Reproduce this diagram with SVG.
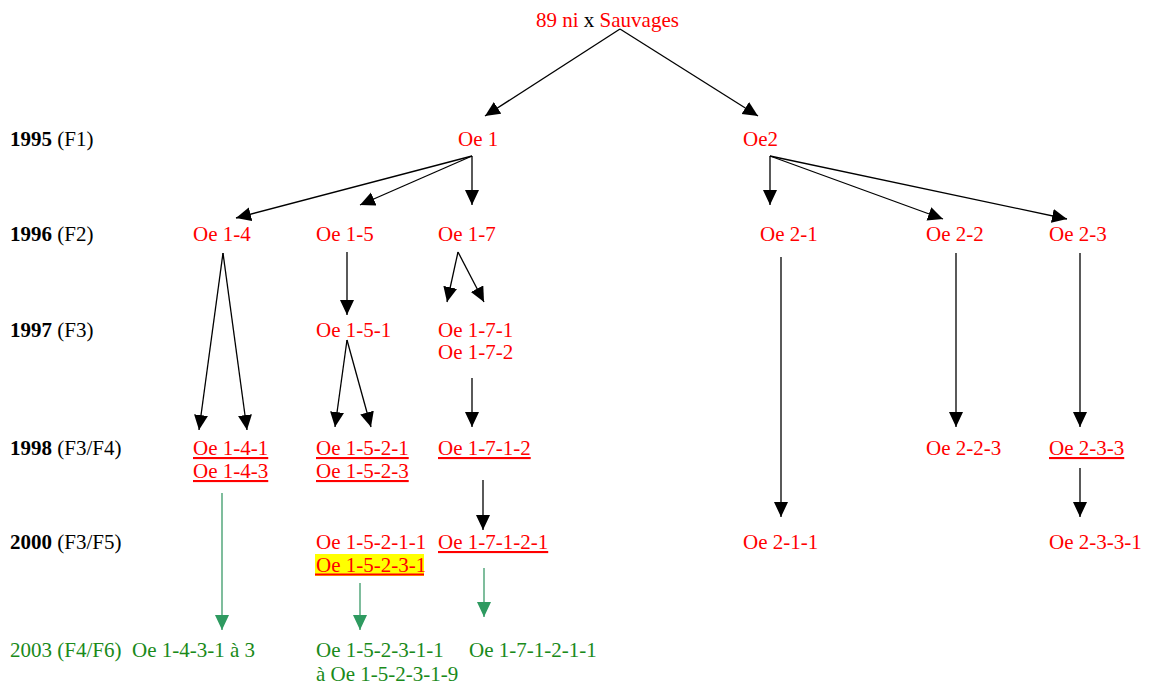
<svg xmlns="http://www.w3.org/2000/svg" width="1155" height="684" viewBox="0 0 1155 684">
<style>
text{font-family:"Liberation Serif","Times New Roman",serif;font-size:21px}
.r{fill:#ff0000}
.k{fill:#000}
.g{fill:#1a8a1a}
.b{font-weight:bold}
.u{text-decoration:underline}
.a{stroke:#000;stroke-width:1.3;fill:none;marker-end:url(#ah)}
.ga{stroke:#3a9a68;stroke-width:1.3;fill:none;marker-end:url(#gh)}
</style>
<defs>
<marker id="ah" markerUnits="userSpaceOnUse" markerWidth="16" markerHeight="15" refX="15" refY="7" orient="auto">
<path d="M0,0 L15,7 L0,14 z" fill="#000"/>
</marker>
<marker id="gh" markerUnits="userSpaceOnUse" markerWidth="16" markerHeight="15" refX="15" refY="7" orient="auto">
<path d="M0,0 L15,7 L0,14 z" fill="#2e9a60"/>
</marker>
</defs>
<rect width="1155" height="684" fill="#fff"/>
<g id="years">
<text x="10" y="146"><tspan class="b">1995</tspan> (F1)</text>
<text x="10" y="241"><tspan class="b">1996</tspan> (F2)</text>
<text x="10" y="337"><tspan class="b">1997</tspan> (F3)</text>
<text x="10" y="455"><tspan class="b">1998</tspan> (F3/F4)</text>
<text x="10" y="549"><tspan class="b">2000</tspan> (F3/F5)</text>
</g>
<g id="root"><text x="536" y="27"><tspan class="r">89 ni</tspan><tspan class="k"> x </tspan><tspan class="r">Sauvages</tspan></text></g>
<g id="oe1"><text class="r" x="458" y="146">Oe 1</text></g>
<g id="oe2"><text class="r" x="743" y="146">Oe2</text></g>
<g id="oe1-4"><text class="r" x="193" y="241">Oe 1-4</text></g>
<g id="oe1-5"><text class="r" x="316" y="241">Oe 1-5</text></g>
<g id="oe1-7"><text class="r" x="438" y="241">Oe 1-7</text></g>
<g id="oe2-1"><text class="r" x="760" y="241">Oe 2-1</text></g>
<g id="oe2-2"><text class="r" x="926" y="241">Oe 2-2</text></g>
<g id="oe2-3"><text class="r" x="1049" y="241">Oe 2-3</text></g>
<g id="oe1-5-1"><text class="r" x="316" y="337">Oe 1-5-1</text></g>
<g id="oe1-7-1"><text class="r" x="438" y="337">Oe 1-7-1</text><text class="r" x="438" y="359">Oe 1-7-2</text></g>
<g id="oe1-4-1"><text class="r u" x="193" y="455">Oe 1-4-1</text><text class="r u" x="193" y="478">Oe 1-4-3</text></g>
<g id="oe1-5-2-1"><text class="r u" x="316" y="455">Oe 1-5-2-1</text><text class="r u" x="316" y="478">Oe 1-5-2-3</text></g>
<g id="oe1-7-1-2"><text class="r u" x="438" y="455">Oe 1-7-1-2</text></g>
<g id="oe2-2-3"><text class="r" x="926" y="455">Oe 2-2-3</text></g>
<g id="oe2-3-3"><text class="r u" x="1049" y="455">Oe 2-3-3</text></g>
<g id="oe1-5-2-1-1">
<text class="r" x="316" y="549">Oe 1-5-2-1-1</text>
<rect x="315" y="554" width="109" height="22" fill="#ffff00"/>
<text class="r" x="316" y="572">Oe 1-5-2-3-1</text>
<line x1="315" y1="574.5" x2="424" y2="574.5" stroke="#ff0000" stroke-width="2"/>
</g>
<g id="oe1-7-1-2-1"><text class="r u" x="438" y="549">Oe 1-7-1-2-1</text></g>
<g id="oe2-1-1"><text class="r" x="743" y="549">Oe 2-1-1</text></g>
<g id="oe2-3-3-1"><text class="r" x="1049" y="549">Oe 2-3-3-1</text></g>
<g id="f2003">
<text class="g" x="10" y="657">2003 (F4/F6)<tspan x="132">Oe 1-4-3-1 à 3</tspan></text>
</g>
<g id="oe1-5-2-3-1-x"><text class="g" x="316" y="657">Oe 1-5-2-3-1-1</text><text class="g" x="316" y="681">à Oe 1-5-2-3-1-9</text></g>
<g id="oe1-7-1-2-1-1"><text class="g" x="469" y="657">Oe 1-7-1-2-1-1</text></g>
<g id="connectors">
<line class="a" x1="620" y1="29" x2="485" y2="116"/>
<line class="a" x1="620" y1="29" x2="758" y2="116"/>
<line class="a" x1="472" y1="156" x2="236" y2="218"/>
<line class="a" x1="472" y1="156" x2="360" y2="205"/>
<line class="a" x1="472" y1="156" x2="472" y2="205"/>
<line class="a" x1="770" y1="156" x2="770" y2="205"/>
<line class="a" x1="770" y1="156" x2="943" y2="219"/>
<line class="a" x1="770" y1="156" x2="1067" y2="219"/>
<line class="a" x1="223" y1="253" x2="199" y2="430"/>
<line class="a" x1="223" y1="253" x2="247" y2="430"/>
<line class="a" x1="347" y1="252" x2="347" y2="315"/>
<line class="a" x1="458" y1="252" x2="447" y2="302"/>
<line class="a" x1="458" y1="252" x2="484" y2="302"/>
<line class="a" x1="347" y1="340" x2="335" y2="427"/>
<line class="a" x1="347" y1="340" x2="371" y2="427"/>
<line class="a" x1="472" y1="378" x2="472" y2="427"/>
<line class="a" x1="483" y1="480" x2="483" y2="530"/>
<line class="a" x1="781" y1="257" x2="781" y2="517"/>
<line class="a" x1="956" y1="253" x2="956" y2="427"/>
<line class="a" x1="1080" y1="253" x2="1080" y2="427"/>
<line class="a" x1="1080" y1="468" x2="1080" y2="517"/>
<line class="ga" x1="222" y1="493" x2="222" y2="630"/>
<line class="ga" x1="360" y1="583" x2="360" y2="630"/>
<line class="ga" x1="484" y1="568" x2="484" y2="617"/>
</g>
</svg>
